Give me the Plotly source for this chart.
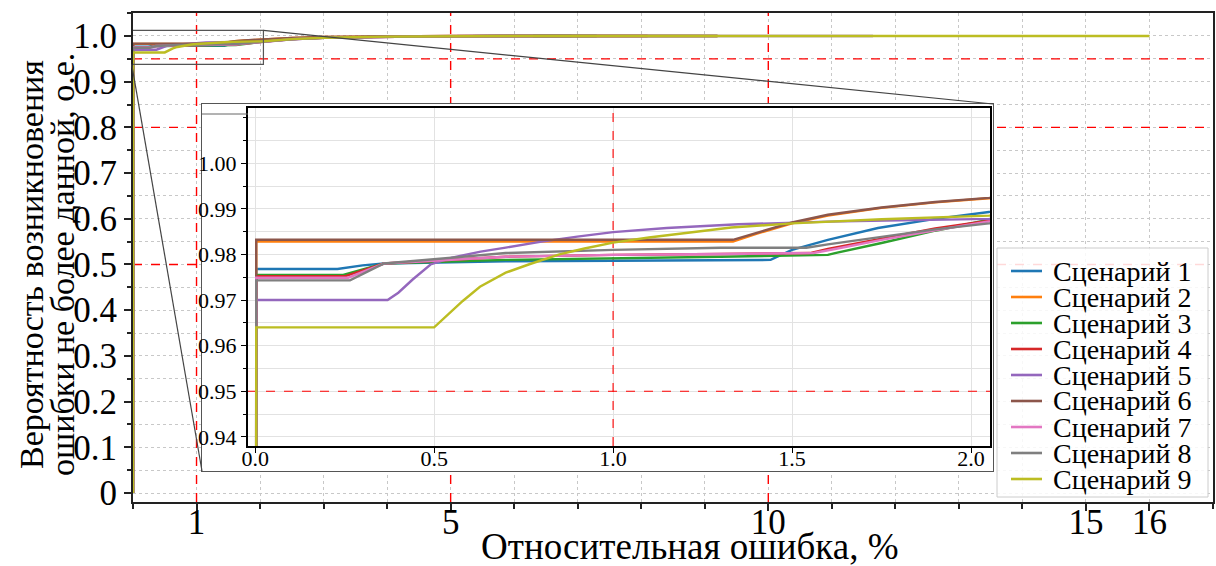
import plotly.graph_objects as go

# ---------------- data ----------------
scenario_names = ["Сценарий 1", "Сценарий 2", "Сценарий 3", "Сценарий 4", "Сценарий 5",
                  "Сценарий 6", "Сценарий 7", "Сценарий 8", "Сценарий 9"]
colors = ["#1f77b4", "#ff7f0e", "#2ca02c", "#d62728", "#9467bd",
          "#8c564b", "#e377c2", "#7f7f7f", "#bcbd22"]

s1_x = [0, 0.003, 0.23, 0.30, 0.36, 0.70, 1.00, 1.44, 1.50, 1.60, 1.74, 1.90, 2.05, 2.5, 3.0, 4.0, 5.0, 6.0, 6.9]
s1_y = [0, 0.9768, 0.9768, 0.9776, 0.9780, 0.9785, 0.9786, 0.9788, 0.9810, 0.9832, 0.9858, 0.9878, 0.9893, 0.9935, 0.9965, 0.9988, 0.9997, 1.0, 1.0]

s2_x = [0, 0.003, 1.335, 1.40, 1.50, 1.60, 1.75, 1.90, 2.05, 2.5, 3.0, 4.0, 5.0, 6.0, 9.2]
s2_y = [0, 0.9828, 0.9828, 0.9845, 0.9868, 0.9885, 0.9902, 0.9914, 0.9923, 0.9958, 0.9980, 0.9994, 0.9999, 1.0, 1.0]

s3_x = [0, 0.003, 0.246, 0.36, 0.70, 1.00, 1.30, 1.60, 1.62, 1.75, 1.90, 2.05, 2.5, 3.0, 4.0, 5.0, 6.0, 7.3]
s3_y = [0, 0.9755, 0.9755, 0.9780, 0.9788, 0.9791, 0.9795, 0.9799, 0.9803, 0.9825, 0.9852, 0.9876, 0.9932, 0.9963, 0.9987, 0.9997, 1.0, 1.0]

s4_x = [0, 0.003, 0.25, 0.36, 0.70, 1.00, 1.30, 1.55, 1.60, 1.75, 1.90, 2.05, 2.5, 3.0, 4.0, 5.0, 6.0, 8.1]
s4_y = [0, 0.9752, 0.9752, 0.9780, 0.9795, 0.9799, 0.9801, 0.9803, 0.9812, 0.9835, 0.9857, 0.9874, 0.9931, 0.9963, 0.9987, 0.9997, 1.0, 1.0]

s5_x = [0, 0.003, 0.37, 0.40, 0.44, 0.49, 0.55, 0.63, 0.70, 0.80, 0.90, 1.00, 1.15, 1.35, 1.60, 2.05, 2.5, 3.0, 4.0, 5.0, 6.0, 11.65]
s5_y = [0, 0.9700, 0.9700, 0.9716, 0.9745, 0.9778, 0.9793, 0.9806, 0.9815, 0.9828, 0.9839, 0.9849, 0.9858, 0.9866, 0.9872, 0.9878, 0.9930, 0.9962, 0.9987, 0.9997, 1.0, 1.0]

s6_x = [0, 0.003, 1.335, 1.40, 1.50, 1.60, 1.75, 1.90, 2.05, 2.5, 3.0, 4.0, 5.0, 6.0, 9.2]
s6_y = [0, 0.9832, 0.9832, 0.9847, 0.9870, 0.9887, 0.9903, 0.9915, 0.9924, 0.9959, 0.9980, 0.9994, 0.9999, 1.0, 1.0]

s7_x = [0, 0.003, 0.26, 0.36, 0.70, 1.00, 1.30, 1.56, 1.62, 1.75, 1.90, 2.05, 2.5, 3.0, 4.0, 5.0, 6.0, 6.3]
s7_y = [0, 0.9749, 0.9749, 0.9780, 0.9795, 0.9799, 0.9801, 0.9803, 0.9812, 0.9832, 0.9853, 0.9871, 0.9930, 0.9962, 0.9987, 0.9997, 1.0, 1.0]

s8_x = [0, 0.003, 0.265, 0.36, 0.70, 1.00, 1.30, 1.54, 1.60, 1.75, 1.90, 2.05, 2.5, 3.0, 4.0, 5.0, 6.0, 9.2]
s8_y = [0, 0.9743, 0.9743, 0.9780, 0.9803, 0.9810, 0.98145, 0.98145, 0.9822, 0.9838, 0.9855, 0.9868, 0.9929, 0.9962, 0.9987, 0.9997, 1.0, 1.0]

s9_x = [0, 0.003, 0.50, 0.54, 0.58, 0.628, 0.70, 0.768, 0.85, 0.92, 1.00, 1.10, 1.20, 1.33, 1.50, 1.75, 2.05, 2.5, 3.0, 4.0, 5.0, 6.0, 16.0]
s9_y = [0, 0.9640, 0.9640, 0.9668, 0.9698, 0.9729, 0.9760, 0.9779, 0.9800, 0.9813, 0.9826, 0.9837, 0.9846, 0.9859, 0.9868, 0.9877, 0.9885, 0.9932, 0.9963, 0.9987, 0.9997, 1.0, 1.0]

series_x = [s1_x, s2_x, s3_x, s4_x, s5_x, s6_x, s7_x, s8_x, s9_x]
series_y = [s1_y, s2_y, s3_y, s4_y, s5_y, s6_y, s7_y, s8_y, s9_y]

# tick labels
main_x_ticks = [1, 5, 10, 15, 16]
main_y_ticks = [0, 0.1, 0.2, 0.3, 0.4, 0.5, 0.6, 0.7, 0.8, 0.9, 1.0]
main_y_labels = ["0", "0.1", "0.2", "0.3", "0.4", "0.5", "0.6", "0.7", "0.8", "0.9", "1.0"]
inset_x_ticks = [0.0, 0.5, 1.0, 1.5, 2.0]
inset_y_ticks = [0.94, 0.95, 0.96, 0.97, 0.98, 0.99, 1.00]

# reference (red dashed) lines
main_ref_x = [1, 5, 10]
main_ref_y = [0.5, 0.8, 0.95]
inset_ref_x = [1.0]
inset_ref_y = [0.95]

# ---------------- layout constants ----------------
W, H = 1216, 566
ML, MR, MT, MB = 133, 3, 13, 64
PW, PH = W - ML - MR, H - MT - MB

X_MAIN = [0.0, 17.0]
Y_MAIN = [-0.0197, 1.0503]
X_INSET = [-0.02, 2.053]
Y_INSET = [0.938, 1.0121]

def px2paper_x(px):
    return (px - ML) / PW

def py2paper_y(py):
    return (H - MB - py) / PH

BOX_DOM_X = [px2paper_x(202), px2paper_x(993)]
BOX_DOM_Y = [py2paper_y(471), py2paper_y(104)]
INS_DOM_X = [px2paper_x(248), px2paper_x(990)]
INS_DOM_Y = [py2paper_y(446), py2paper_y(108)]

FONT = "Liberation Serif"
GRID = "#c8c8c8"

fig = go.Figure()

for name, col, xs, ys in zip(scenario_names, colors, series_x, series_y):
    fig.add_trace(go.Scatter(x=xs, y=ys, mode="lines", name=name,
                             line=dict(color=col, width=2.4),
                             xaxis="x", yaxis="y", showlegend=False))

# white framed box behind inset (own subplot so it hides main gridlines)
fig.add_trace(go.Scatter(x=[], y=[], xaxis="x2", yaxis="y2", showlegend=False,
                         hoverinfo="skip"))

for name, col, xs, ys in zip(scenario_names, colors, series_x, series_y):
    fig.add_trace(go.Scatter(x=xs, y=ys, mode="lines", name=name,
                             line=dict(color=col, width=2.4),
                             xaxis="x3", yaxis="y3", showlegend=False))

shapes = []
for xv in main_ref_x:
    shapes.append(dict(type="line", xref="x", yref="y", x0=xv, x1=xv,
                       y0=Y_MAIN[0], y1=Y_MAIN[1], layer="between",
                       line=dict(color="red", width=1.4, dash="dash")))
for yv in main_ref_y:
    shapes.append(dict(type="line", xref="x", yref="y", x0=X_MAIN[0], x1=X_MAIN[1],
                       y0=yv, y1=yv, layer="between",
                       line=dict(color="red", width=1.4, dash="dash")))
for xv in inset_ref_x:
    shapes.append(dict(type="line", xref="x3", yref="y3", x0=xv, x1=xv,
                       y0=Y_INSET[0], y1=Y_INSET[1], layer="between",
                       line=dict(color="red", width=1.1, dash="dash")))
for yv in inset_ref_y:
    shapes.append(dict(type="line", xref="x3", yref="y3", x0=X_INSET[0], x1=X_INSET[1],
                       y0=yv, y1=yv, layer="between",
                       line=dict(color="red", width=1.1, dash="dash")))

# zoom indicator rectangle on main axes
shapes.append(dict(type="rect", xref="x", yref="y", x0=X_INSET[0], x1=X_INSET[1],
                   y0=Y_INSET[0], y1=Y_INSET[1], layer="above",
                   line=dict(color="#555555", width=1.2)))

def d2p_x(x):
    return (x - X_MAIN[0]) / (X_MAIN[1] - X_MAIN[0])

def d2p_y(y):
    return (y - Y_MAIN[0]) / (Y_MAIN[1] - Y_MAIN[0])

shapes.append(dict(type="line", xref="paper", yref="paper",
                   x0=d2p_x(X_INSET[1]), y0=d2p_y(Y_INSET[1]),
                   x1=BOX_DOM_X[1], y1=BOX_DOM_Y[1], layer="above",
                   line=dict(color="#444444", width=1.2)))
shapes.append(dict(type="line", xref="paper", yref="paper",
                   x0=d2p_x(X_INSET[0]), y0=d2p_y(Y_INSET[0]),
                   x1=BOX_DOM_X[0], y1=BOX_DOM_Y[0], layer="above",
                   line=dict(color="#444444", width=1.2)))
shapes.append(dict(type="line", xref="paper", yref="paper",
                   x0=BOX_DOM_X[0], x1=INS_DOM_X[0],
                   y0=py2paper_y(114), y1=py2paper_y(114), layer="above",
                   line=dict(color="#666666", width=1)))

# custom legend
LEG_X0, LEG_X1 = px2paper_x(997), px2paper_x(1208)
LEG_Y0, LEG_Y1 = py2paper_y(497), py2paper_y(248)
shapes.append(dict(type="rect", xref="paper", yref="paper",
                   x0=LEG_X0, x1=LEG_X1, y0=LEG_Y0, y1=LEG_Y1, layer="above",
                   fillcolor="rgba(255,255,255,0.85)",
                   line=dict(color="#cccccc", width=1)))
annotations = []
for i, (name, col) in enumerate(zip(scenario_names, colors)):
    yrow = py2paper_y(271 + 26 * i)
    shapes.append(dict(type="line", xref="paper", yref="paper",
                       x0=px2paper_x(1011), x1=px2paper_x(1042), y0=yrow, y1=yrow,
                       layer="above", line=dict(color=col, width=2.6)))
    annotations.append(dict(text=name, xref="paper", yref="paper",
                            x=px2paper_x(1051), y=yrow, xanchor="left", yanchor="middle",
                            showarrow=False, font=dict(family=FONT, size=28, color="black")))

annotations.append(dict(text="Относительная ошибка, %", xref="paper", yref="paper",
                        x=px2paper_x(690), y=py2paper_y(546), xanchor="center",
                        yanchor="middle", showarrow=False,
                        font=dict(family=FONT, size=37, color="black")))
annotations.append(dict(text="Вероятность возникновения", xref="paper", yref="paper",
                        x=px2paper_x(31), y=py2paper_y(265), xanchor="center",
                        yanchor="middle", textangle=-90, showarrow=False,
                        font=dict(family=FONT, size=34, color="black")))
annotations.append(dict(text="ошибки не более данной, о.е.", xref="paper", yref="paper",
                        x=px2paper_x(62), y=py2paper_y(265), xanchor="center",
                        yanchor="middle", textangle=-90, showarrow=False,
                        font=dict(family=FONT, size=34, color="black")))

fig.update_layout(
    width=W, height=H,
    margin=dict(l=ML, r=MR, t=MT, b=MB),
    paper_bgcolor="white", plot_bgcolor="white",
    showlegend=False,
    font=dict(family=FONT, color="black"),
    shapes=shapes, annotations=annotations,
    xaxis=dict(domain=[0, 1], range=X_MAIN, tickmode="array", tickvals=main_x_ticks,
               ticks="outside", ticklen=7, tickwidth=1.5, tickcolor="#222",
               tickfont=dict(family=FONT, size=35, color="black"),
               ticklabelstandoff=-19,
               showgrid=True, gridcolor=GRID, griddash="dot", gridwidth=1,
               minor=dict(dtick=1, tick0=0, ticks="outside", ticklen=5, tickcolor="#222",
                          showgrid=True, gridcolor=GRID, griddash="dot"),
               showline=True, linecolor="#222", linewidth=1.8, mirror=True,
               zeroline=False, anchor="y", automargin=False),
    yaxis=dict(domain=[0, 1], range=Y_MAIN, tickmode="array", tickvals=main_y_ticks,
               ticktext=main_y_labels,
               ticks="outside", ticklen=7, tickwidth=1.5, tickcolor="#222",
               tickfont=dict(family=FONT, size=35, color="black"),
               showgrid=True, gridcolor=GRID, griddash="dot", gridwidth=1,
               minor=dict(dtick=0.05, tick0=0, ticks="outside", ticklen=4, tickcolor="#222",
                          showgrid=True, gridcolor=GRID, griddash="dot"),
               showline=True, linecolor="#222", linewidth=1.8, mirror=True,
               zeroline=False, anchor="x", automargin=False),
    xaxis2=dict(domain=BOX_DOM_X, range=[0, 1], showgrid=False, zeroline=False,
                showticklabels=False, ticks="", showline=True, linecolor="#555",
                linewidth=1.3, mirror=True, anchor="y2", fixedrange=True),
    yaxis2=dict(domain=BOX_DOM_Y, range=[0, 1], showgrid=False, zeroline=False,
                showticklabels=False, ticks="", showline=True, linecolor="#555",
                linewidth=1.3, mirror=True, anchor="x2", fixedrange=True),
    xaxis3=dict(domain=INS_DOM_X, range=X_INSET, tickmode="array", tickvals=inset_x_ticks,
                tickformat=".1f", ticks="outside", ticklen=5, tickcolor="#000",
                tickfont=dict(family=FONT, size=22, color="black"),
                ticklabelstandoff=-14,
                showgrid=True, gridcolor="#e2e2e2", gridwidth=1,
                showline=True, linecolor="#000", linewidth=2.2, mirror=True,
                zeroline=False, anchor="y3"),
    yaxis3=dict(domain=INS_DOM_Y, range=Y_INSET, tickmode="array", tickvals=inset_y_ticks,
                tickformat=".2f", ticks="outside", ticklen=5, tickcolor="#000",
                tickfont=dict(family=FONT, size=22, color="black"),
                showgrid=True, gridcolor="#e2e2e2", gridwidth=1,
                minor=dict(dtick=0.005, tick0=0.94, ticks="outside", ticklen=3,
                           tickcolor="#000", showgrid=True, gridcolor="#e2e2e2"),
                showline=True, linecolor="#000", linewidth=2.2, mirror=True,
                zeroline=False, anchor="x3"),
)

fig.write_html("out.html", config={"displayModeBar": False},
               post_script="document.body.style.margin='0';")
